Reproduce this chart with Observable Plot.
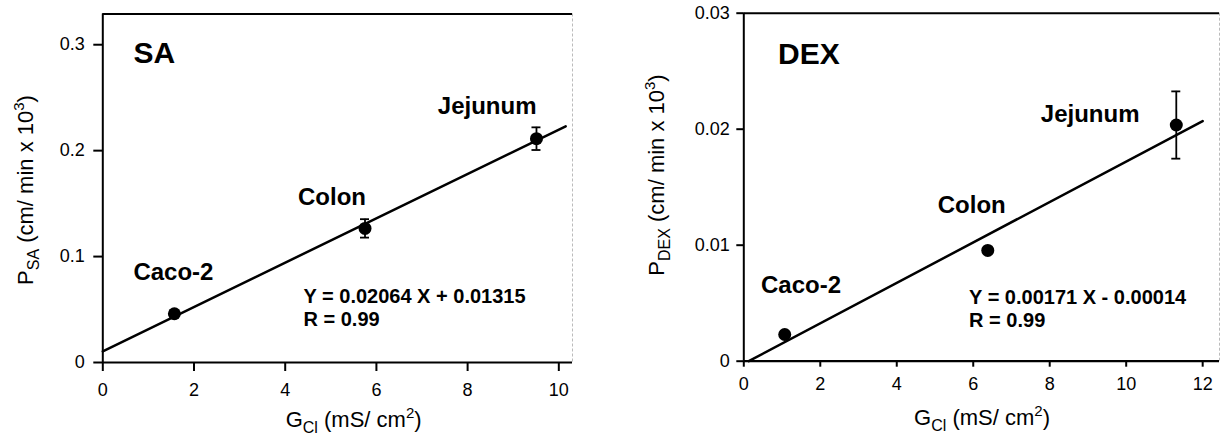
<!DOCTYPE html>
<html><head><meta charset="utf-8">
<script src="https://cdn.jsdelivr.net/npm/d3@7"></script>
<script src="https://cdn.jsdelivr.net/npm/@observablehq/plot@0.6"></script>
<style>
body{margin:0;background:#fff;}
#wrap{position:relative;width:1221px;height:442px;overflow:hidden;background:#fff;}
#wrap svg{position:absolute;top:0;}
</style></head><body><div id="wrap"></div>
<script>
// ---- data ----
const tissues = ["Caco-2", "Colon", "Jejunum"];

const saG = [1.57, 5.75, 9.51];
const saP = [0.046, 0.1266, 0.2113];
const saErr = [0.003, 0.0087, 0.0107];
const saFitG = [0, 10.15];
const saFitP = [0.0105, 0.223];
const saTicksX = [0, 2, 4, 6, 8, 10];
const saTicksY = [0, 0.1, 0.2, 0.3];
const saEquation = ["Y = 0.02064 X + 0.01315", "R = 0.99"];

const dexG = [1.07, 6.38, 11.31];
const dexP = [0.0023, 0.00955, 0.02036];
const dexErr = [0, 0, 0.0029];
const dexFitG = [0.13, 12.0];
const dexFitP = [0, 0.0207];
const dexTicksX = [0, 2, 4, 6, 8, 10, 12];
const dexTicksY = [0, 0.01, 0.02, 0.03];
const dexEquation = ["Y = 0.00171 X - 0.00014", "R = 0.99"];

const FONT = 'Arial, "Liberation Sans", Helvetica, sans-serif';
const fmt = d => (d === 0 ? "0" : String(d));

function panel(cfg) {
  const rows = tissues.map((t, i) => ({t, g: cfg.g[i], p: cfg.p[i], lo: cfg.p[i] - cfg.err[i], hi: cfg.p[i] + cfg.err[i], e: cfg.err[i]}));
  const fit = cfg.fitG.map((g, i) => ({g, p: cfg.fitP[i]}));
  const innerW = cfg.width - cfg.ml - cfg.mr;
  const capHalf = 4.5 * (cfg.xDomain[1] - cfg.xDomain[0]) / innerW;
  const bars = rows.filter(d => d.e > 0);
  const labelMarks = rows.map((d, i) => Plot.text([d], {
    x: "g", y: "p", text: "t", dx: cfg.lab[i][0], dy: cfg.lab[i][1],
    textAnchor: cfg.lab[i][2] || "start", lineAnchor: "bottom",
    fontWeight: "bold", fontSize: 24
  }));
  const plot = Plot.plot({
    width: cfg.width, height: 442,
    marginLeft: cfg.ml, marginRight: cfg.mr, marginTop: cfg.mt, marginBottom: cfg.mb,
    x: {domain: cfg.xDomain},
    y: {domain: cfg.yDomain},
    style: {fontFamily: FONT, fontSize: "18px", color: "black", background: "transparent", overflow: "visible"},
    marks: [
      Plot.ruleX([cfg.xDomain[1]], {stroke: cfg.rightStroke, strokeWidth: 1, strokeDasharray: cfg.rightDash}),
      Plot.ruleY([cfg.yDomain[1]], {strokeWidth: 2}),
      Plot.ruleX([cfg.xDomain[0]], {strokeWidth: 2}),
      Plot.ruleY([cfg.yDomain[0]], {strokeWidth: 2.2}),
      Plot.axisX({ticks: cfg.ticksX, tickFormat: fmt, tickSize: cfg.tsx, tickPadding: cfg.tpx, fontSize: 18, label: null, strokeWidth: 2}),
      Plot.axisY({ticks: cfg.ticksY, tickFormat: fmt, tickSize: cfg.tsy, tickPadding: cfg.tpy, fontSize: 18, label: null, strokeWidth: 2}),
      Plot.line(fit, {x: "g", y: "p", strokeWidth: 2.5}),
      Plot.ruleX(bars, {x: "g", y1: "lo", y2: "hi", strokeWidth: 1.8}),
      Plot.ruleY(bars, {y: "hi", x1: d => d.g - capHalf, x2: d => d.g + capHalf, strokeWidth: 1.8}),
      Plot.ruleY(bars, {y: "lo", x1: d => d.g - capHalf, x2: d => d.g + capHalf, strokeWidth: 1.8}),
      Plot.dot(rows, {x: "g", y: "p", r: 6.5, fill: "black", stroke: null}),
      ...labelMarks,
      Plot.text([cfg.name], {frameAnchor: "top-left", dx: cfg.titleDx, dy: cfg.titleDy, lineAnchor: "bottom", textAnchor: "start", fontWeight: "bold", fontSize: 30}),
      Plot.text([cfg.eq[0]], {frameAnchor: "top-left", dx: cfg.eqDx, dy: cfg.eqDy, lineAnchor: "bottom", textAnchor: "start", fontWeight: "bold", fontSize: 20}),
      Plot.text([cfg.eq[1]], {frameAnchor: "top-left", dx: cfg.eqDx, dy: cfg.eqDy + 23, lineAnchor: "bottom", textAnchor: "start", fontWeight: "bold", fontSize: 20})
    ]
  });
  const svg = d3.select(plot);
  // y axis title
  const yt = svg.append("text")
    .attr("transform", `translate(${cfg.ylab[0]},${cfg.ylab[1]}) rotate(-90)`)
    .attr("text-anchor", "middle").attr("font-size", 22).attr("fill", "black").attr("font-family", FONT);
  yt.append("tspan").text("P");
  yt.append("tspan").attr("font-size", 16).attr("dy", 6).text(cfg.sub);
  yt.append("tspan").attr("dy", -6).text(" (cm/ min x 10");
  yt.append("tspan").attr("font-size", 15).attr("dy", -9).text("3");
  yt.append("tspan").attr("dy", 9).text(")");
  // x axis title
  const xt = svg.append("text")
    .attr("x", cfg.xlab[0]).attr("y", cfg.xlab[1])
    .attr("text-anchor", "middle").attr("font-size", 22).attr("fill", "black").attr("font-family", FONT);
  xt.append("tspan").text("G");
  xt.append("tspan").attr("font-size", 16).attr("dy", 6).text("Cl");
  xt.append("tspan").attr("dy", -6).text(" (mS/ cm");
  xt.append("tspan").attr("font-size", 15).attr("dy", -9).text("2");
  xt.append("tspan").attr("dy", 9).text(")");
  plot.style.left = cfg.left + "px";
  return plot;
}

const wrap = document.getElementById("wrap");
wrap.appendChild(panel({
  name: "SA", sub: "SA", left: 0, width: 600,
  ml: 102.3, mr: 28, mt: 13.5, mb: 80,
  xDomain: [0, 10.3], yDomain: [0, 0.329],
  g: saG, p: saP, err: saErr, fitG: saFitG, fitP: saFitP,
  ticksX: saTicksX, ticksY: saTicksY,
  tsx: 9, tpx: 12, tsy: 9, tpy: 9,
  rightStroke: "#bbb", rightDash: "3,2",
  lab: [[-41, -33.5], [-67, -23], [0, -25, "end"]],
  titleDx: 30.7, titleDy: 48.5,
  eq: saEquation, eqDx: 200.7, eqDy: 288.5,
  ylab: [33, 190], xlab: [353.6, 427]
}));
wrap.appendChild(panel({
  name: "DEX", sub: "DEX", left: 600, width: 621,
  ml: 143.3, mr: 2, mt: 12.7, mb: 81.3,
  xDomain: [0, 12.44], yDomain: [0, 0.03],
  g: dexG, p: dexP, err: dexErr, fitG: dexFitG, fitP: dexFitP,
  ticksX: dexTicksX, ticksY: dexTicksY,
  tsx: 6, tpx: 10, tsy: 7, tpy: 7,
  rightStroke: "#bbb", rightDash: "3,2",
  lab: [[-23.7, -42], [-50, -37], [-36.8, -3.5, "end"]],
  titleDx: 34.3, titleDy: 50.3,
  eq: dexEquation, eqDx: 225.3, eqDy: 290.3,
  ylab: [63.5, 175], xlab: [382, 425]
}));
</script>
</body></html>
